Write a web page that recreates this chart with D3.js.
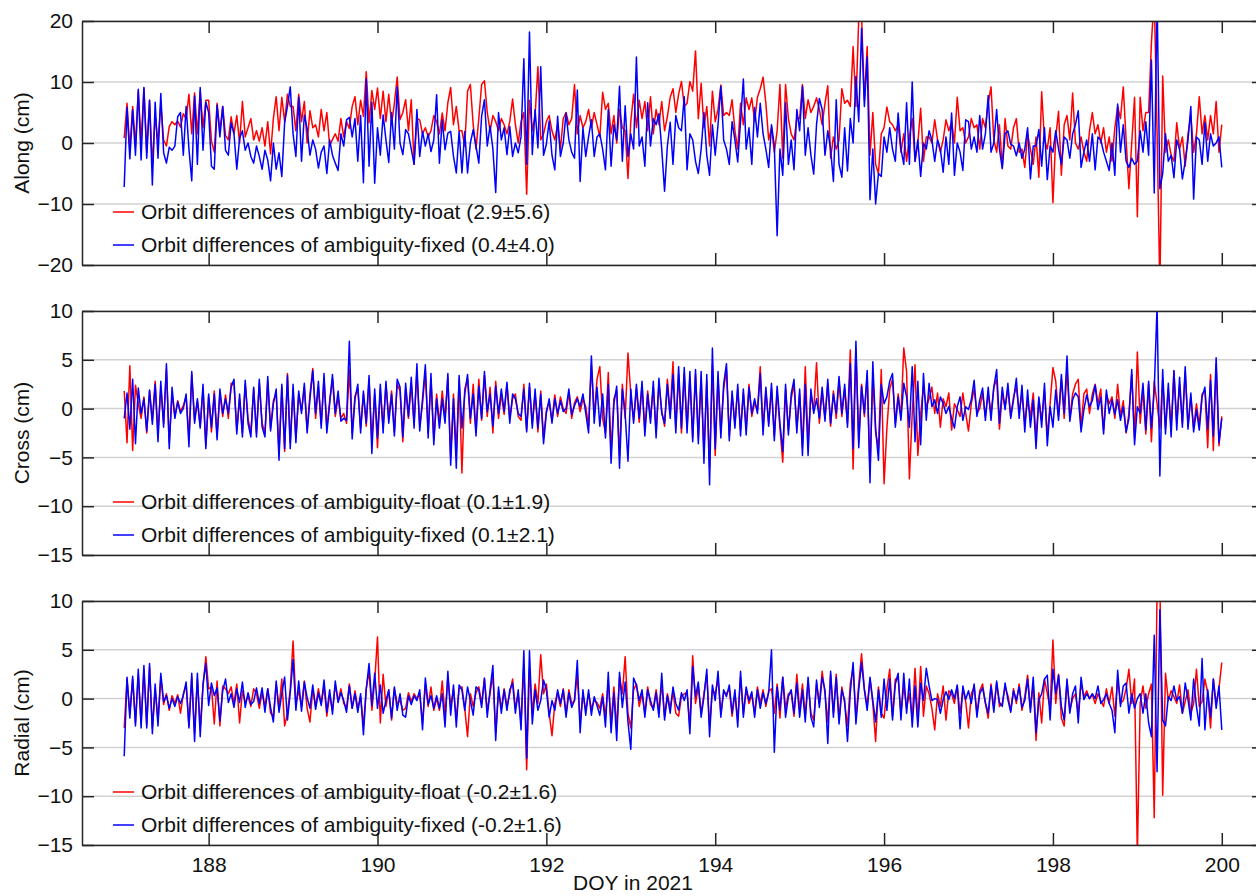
<!DOCTYPE html>
<html>
<head>
<meta charset="utf-8">
<script src="https://cdn.jsdelivr.net/npm/d3@7"></script>
<style>
body { margin: 0; background: #fff; }
svg text { font-family: "Liberation Sans", Arial, Helvetica, sans-serif; }
</style>
</head>
<body>
<svg id="chart" width="1256" height="896"></svg>
<script>
// epochs: 30 per day, first one at DOY 187.0, last one at DOY 200.0
var startDoy = 187;
var perDay = 30;

var xTicks = [188, 190, 192, 194, 196, 198, 200];
var alongTicks = [-20, -10, 0, 10, 20];
var crossTicks = [-15, -10, -5, 0, 5, 10];
var radialTicks = [-15, -10, -5, 0, 5, 10];

var alongLabels = ['Orbit differences of ambiguity-float (2.9\u00b15.6)', 'Orbit differences of ambiguity-fixed (0.4\u00b14.0)'];
var crossLabels = ['Orbit differences of ambiguity-float (0.1\u00b11.9)', 'Orbit differences of ambiguity-fixed (0.1\u00b12.1)'];
var radialLabels = ['Orbit differences of ambiguity-float (-0.2\u00b11.6)', 'Orbit differences of ambiguity-fixed (-0.2\u00b11.6)'];

// along-track differences (cm)
var alongFloat = [
 0.8,6.5,-1.0,6.0,-0.5,8.5,0.0,9.0,-1.5,7.0,-3.6,4.5,0.0,6.5,0.5,-0.5,2.7,3.5,3.0,3.6,2.6,4.8,4.0,8.0,1.5,8.2,1.5,8.5,2.5,7.0,
 7.0,0.3,-1.5,6.5,2.0,6.0,1.2,0.5,4.3,1.5,4.5,0.0,6.8,1.0,2.5,4.0,0.5,2.0,0.3,2.5,-0.5,3.5,-1.8,4.0,7.6,2.0,7.5,3.5,8.0,6.0,
 6.0,2.0,8.0,3.5,6.8,0.0,5.3,2.5,3.0,1.0,5.5,2.0,5.0,-0.5,0.6,1.5,0.3,4.0,1.0,3.5,2.4,6.0,7.6,3.0,7.0,4.4,11.7,3.3,8.6,5.5,
 9.0,4.0,8.5,3.5,8.0,3.0,6.5,10.8,3.8,5.0,7.1,2.0,7.1,-3.5,4.0,3.8,1.5,2.5,1.0,2.0,4.5,3.5,1.5,4.9,2.0,6.6,9.1,3.0,6.0,2.0,
 2.0,-0.5,8.5,9.6,3.0,-1.0,4.0,9.6,10.2,5.0,2.0,4.5,3.5,2.0,4.0,3.0,1.5,3.5,7.2,3.0,0.0,3.5,5.0,-8.4,7.0,2.0,4.5,12.5,0.5,1.5,
 3.5,4.5,2.0,0.5,3.0,-1.0,4.0,5.0,3.0,4.0,9.6,1.5,4.5,2.5,3.5,5.5,2.5,5.0,3.0,1.0,8.3,5.5,6.5,1.5,4.5,0.0,5.5,2.5,2.0,-5.8,
 3.5,8.0,2.5,7.0,4.0,6.8,2.0,7.6,1.5,5.5,3.0,6.8,2.0,4.3,7.5,8.9,5.0,8.0,10.1,6.0,6.5,10.1,8.5,15.1,4.0,9.8,2.5,6.0,-0.5,8.5,
 3.5,5.5,9.5,4.5,5.0,4.5,7.1,2.0,-1.0,6.5,3.0,7.4,5.5,7.4,3.5,7.5,8.9,10.8,6.5,0.5,2.5,-1.5,2.0,9.6,-2.5,9.6,4.0,1.5,0.5,4.0,
 4.0,9.6,4.0,7.1,5.0,6.0,7.4,5.5,3.0,6.5,9.4,-2.5,1.0,-1.0,0.5,8.9,6.5,7.0,6.0,15.8,6.0,20.5,21.0,7.0,15.8,-2.0,5.0,-3.5,-5.0,1.5,
 2.5,5.9,3.5,3.0,2.0,3.0,-1.5,1.5,-3.0,1.0,4.0,-3.0,0.0,5.7,-3.0,1.0,1.0,0.0,3.8,0.5,-1.5,0.5,3.8,2.0,3.5,0.0,7.5,2.0,2.5,0.0,
 1.0,4.0,2.5,3.0,-1.0,4.0,2.5,6.5,9.2,0.5,-1.5,3.0,-4.0,4.0,-0.5,-1.0,2.5,4.0,-1.5,-1.0,-4.0,1.5,-1.0,-3.5,1.0,-5.6,8.4,0.5,-1.0,2.5,
 -9.8,1.0,5.2,-5.3,3.0,4.5,0.5,8.2,0.0,-1.0,1.0,-1.5,-3.0,2.0,5.0,1.5,3.0,0.0,2.5,-1.5,1.0,-3.0,2.5,6.0,4.0,9.2,0.5,-7.5,0.0,7.5,
 -12.1,7.5,2.0,5.0,5.0,16.5,24.0,2.0,-24.0,11.0,-1.5,0.5,-2.0,-3.0,3.3,-1.0,1.0,-3.8,1.5,4.5,-1.5,1.5,7.6,1.5,4.5,0.5,4.5,1.5,6.8,-1.5,
 3.0
];
var alongFixed = [
 -7.2,5.8,-2.6,5.5,-2.0,8.8,-2.8,9.1,-2.5,7.0,-6.9,6.7,-2.5,8.1,-1.6,-3.3,-0.7,-1.2,-0.5,4.3,5.0,-2.0,6.0,-1.0,-6.2,7.7,-3.5,9.1,-1.2,6.7,
 5.0,-3.8,-4.3,6.2,1.0,6.0,-1.2,-2.0,3.3,1.5,-4.3,0.8,2.0,-1.2,0.0,-2.2,-3.3,-0.5,-2.2,-4.3,-1.2,-2.8,-6.2,0.0,-4.3,-1.6,-5.5,3.3,6.0,9.2,
 1.5,-2.2,7.5,-3.0,4.6,2.3,-2.0,0.5,-1.0,-4.1,-1.5,-0.5,-5.0,0.5,-2.0,-3.3,-4.5,1.5,-0.5,3.8,4.2,1.0,4.0,-3.0,4.5,-6.5,10.5,-3.8,6.7,-6.6,
 2.5,-2.0,4.6,0.5,-3.2,5.0,-1.0,9.2,0.0,-1.9,2.2,1.5,-1.0,-3.5,5.5,-2.2,1.9,-0.5,1.5,-1.4,0.5,7.9,-3.3,3.8,-1.1,1.6,1.9,-2.2,-4.9,1.9,
 -4.9,1.9,-4.9,0.0,2.2,-0.5,-3.3,4.4,7.1,-0.5,2.8,-1.0,-8.1,5.0,0.5,2.5,-1.9,2.7,-2.2,0.0,-1.6,1.0,13.8,-3.5,18.2,-1.9,5.5,-0.8,12.5,-2.0,
 -0.2,3.6,-2.0,-4.4,4.4,-2.2,0.0,4.9,0.5,-1.5,-2.5,8.7,-6.3,2.5,-2.2,1.0,3.8,-2.2,1.0,1.5,-1.0,-4.4,5.5,-3.8,3.0,0.5,9.3,-3.0,6.1,-2.2,
 1.5,-1.0,14.1,-0.5,1.0,-3.8,6.6,-0.5,4.0,3.0,4.8,-1.0,-7.9,-0.5,3.4,-3.5,4.5,2.5,2.0,7.6,-4.4,1.5,0.5,-3.0,-5.0,-1.0,5.0,-2.0,-5.3,3.0,
 -2.0,3.0,9.3,0.5,-1.0,-3.5,3.5,0.5,-3.1,3.5,10.5,-1.0,2.5,-3.5,5.8,1.0,6.5,1.5,-1.0,-4.0,3.0,-0.5,-15.2,-1.0,-5.3,6.6,-3.5,0.5,-4.4,5.5,
 2.0,9.3,-2.0,2.5,-2.0,-5.1,3.0,7.3,5.5,-2.0,2.0,-1.0,-6.3,7.1,-3.5,-5.6,2.5,-4.6,4.0,0.0,10.9,3.5,18.8,6.0,14.1,-9.3,-1.0,-10.0,-5.0,-5.5,
 1.0,-1.5,2.5,-1.0,-3.0,4.9,-1.0,-3.5,6.6,-3.5,10.0,-3.0,0.5,-5.5,0.0,-1.0,2.0,0.5,-3.0,0.5,-1.0,-4.8,1.0,-3.5,4.9,-5.3,0.0,-1.5,-4.5,3.8,
 3.5,-1.0,1.0,-1.5,4.5,-1.0,1.5,7.8,-1.5,0.0,5.5,-1.0,-4.2,1.5,2.0,-0.2,-0.5,-2.1,0.0,-2.5,-1.0,2.5,-5.9,-0.5,-0.5,2.2,-3.8,2.5,-6.0,-0.5,
 -1.5,2.0,-1.0,-3.5,1.0,0.5,-2.5,1.5,3.0,5.3,-4.0,-1.5,0.5,-3.0,1.5,-4.4,1.0,0.5,-1.5,-3.0,-4.5,0.0,-5.3,6.4,-1.5,3.0,-3.0,-4.0,-2.5,-3.5,
 -3.0,2.0,-1.5,3.5,-2.0,13.6,-8.2,24.0,-7.5,-5.0,1.5,-3.0,-2.0,-5.7,0.5,-1.0,-5.9,-3.0,0.5,6.0,-9.2,1.0,0.5,-3.5,3.3,-3.0,1.5,-0.5,0.0,1.0,
 -4.0
];

// cross-track differences (cm)
var crossFloat = [
 1.8,-3.5,4.4,-4.3,2.4,0.5,-1.0,1.2,-2.5,1.8,-1.2,2.8,-2.5,2.2,-1.5,4.0,-3.5,1.5,-0.8,0.8,-0.3,0.3,1.2,-3.0,3.5,-1.2,0.8,-1.8,2.0,-3.8,
 1.2,-2.4,1.8,-2.8,1.5,-0.8,1.4,-1.0,2.6,2.5,-2.2,1.0,-2.5,2.5,-1.0,-2.5,2.0,-2.5,2.6,-1.5,-2.5,2.8,-2.0,0.8,1.5,-4.5,2.2,-4.4,3.6,-3.5,
 2.0,-3.0,1.5,-0.2,2.2,-2.2,1.5,4.1,-1.0,2.2,-1.6,3.0,-2.0,0.8,3.0,-0.8,1.2,-1.0,-0.5,-1.5,4.0,-2.5,1.3,2.0,-2.0,1.5,-1.8,3.0,-3.3,1.5,
 -4.0,2.0,-2.0,2.5,-1.0,1.8,-2.4,2.5,1.8,-3.4,2.0,-1.0,2.6,-1.5,3.8,-1.8,0.5,3.8,-2.5,3.0,-3.2,1.5,-1.5,1.8,-1.0,3.2,-5.0,1.5,-4.5,3.0,
 -6.6,2.0,3.0,-1.5,2.5,-2.4,3.0,-1.2,3.4,-0.8,2.2,-2.5,2.8,-1.0,1.5,-0.6,2.5,-1.0,1.0,1.5,-0.8,-1.2,2.5,-2.2,2.2,-1.5,1.5,-2.4,1.8,-3.0,
 -0.2,0.7,-1.2,1.4,-0.8,1.2,0.0,-0.5,1.6,-1.0,0.6,1.2,-0.3,1.0,0.2,-1.8,4.5,-0.8,3.0,4.3,-1.0,-2.5,3.7,-4.5,1.0,1.8,-4.8,2.5,-1.0,5.7,
 1.5,-1.2,2.0,-1.4,2.3,-2.2,1.8,-1.0,2.2,-2.5,2.6,-0.2,-1.8,3.0,-0.5,4.8,-2.0,3.5,-2.5,3.6,-2.0,3.2,-3.0,3.5,-3.0,3.2,-4.5,2.8,-6.0,4.5,
 -4.8,3.0,-2.5,2.0,4.0,-2.8,1.4,-1.6,2.0,-2.2,1.6,-2.0,2.5,-0.8,0.6,-0.2,4.3,-2.0,1.8,-1.5,2.0,-2.8,1.8,-2.0,-5.5,2.0,-2.2,1.0,2.5,-2.0,
 1.5,-4.0,4.3,-3.5,1.5,-0.2,4.7,-1.5,1.8,-1.0,2.5,-1.8,1.8,-1.0,2.8,-0.8,2.0,-1.5,6.0,-6.2,6.0,-3.5,2.5,-0.8,3.5,-6.5,3.5,-2.5,-4.0,4.0,
 -7.7,-2.0,2.0,3.0,-1.5,1.5,-0.8,6.2,3.8,-7.2,-0.5,4.5,-4.8,-0.5,2.2,0.2,1.0,2.2,-0.5,1.6,-1.9,1.0,0.2,1.6,-2.2,0.5,-0.1,-0.8,1.6,-0.5,
 -2.3,0.5,2.0,-0.5,0.0,1.6,-0.8,1.5,-0.5,2.2,3.0,-2.1,1.5,0.2,2.0,-0.8,1.2,2.2,-0.3,1.5,-1.5,0.8,-0.8,1.6,-3.0,1.0,-1.2,1.8,-2.8,0.5,
 4.2,2.8,-0.8,3.0,-1.0,4.0,-1.0,1.5,2.5,3.0,-2.0,1.5,2.0,-0.5,1.5,2.5,0.5,2.0,-2.2,1.5,0.5,1.2,-1.0,2.5,-0.8,0.8,-2.5,-0.5,3.5,-3.0,
 5.8,-1.5,2.0,-2.6,2.5,-3.4,2.8,0.5,-2.0,3.0,-2.0,2.0,-2.0,3.8,-1.5,2.5,-1.5,3.8,-1.8,1.2,-2.0,0.5,-1.8,1.5,1.8,-4.0,3.5,-4.3,4.5,-3.8,
 -0.8
];
var crossFixed = [
 -1.0,1.6,-2.1,3.0,-3.6,2.1,-0.5,1.0,-2.3,1.9,-1.6,2.5,-3.4,2.8,-1.9,4.6,-4.1,2.2,-1.0,0.7,-0.5,0.0,1.5,-3.9,3.8,-1.5,1.0,-2.0,2.5,-4.1,
 1.5,-1.9,1.5,-3.2,2.0,-0.5,1.0,-0.5,2.2,3.0,-2.6,1.5,-2.9,2.9,-1.5,-2.9,2.2,-2.9,3.0,-1.9,-2.9,3.3,-2.3,0.5,2.0,-5.3,2.5,-4.1,3.4,-4.1,
 2.5,-3.5,1.8,-0.5,2.6,-2.5,1.0,3.9,-0.5,2.8,-2.0,3.6,-2.5,0.5,3.5,-0.5,1.8,-1.3,-1.0,-1.2,6.9,-3.1,1.0,2.5,-2.5,1.8,-1.5,3.4,-4.6,2.0,
 -3.0,2.5,-2.5,2.8,-1.5,1.5,-2.8,3.0,2.2,-2.9,2.6,-0.8,3.2,-2.0,4.6,-2.3,1.0,4.5,-3.0,3.6,-3.7,1.0,-2.0,1.0,-1.5,3.6,-5.8,1.0,-6.1,3.4,
 -2.0,1.5,3.5,-1.0,1.5,-2.8,2.3,-1.0,3.8,-0.3,1.5,-1.8,2.3,-0.5,2.0,-0.3,2.7,-1.5,1.5,1.0,-0.5,-0.8,2.0,-2.4,2.6,-2.0,2.0,-2.0,1.5,-3.6,
 -0.5,1.0,-1.5,1.0,-0.5,0.8,-0.3,0.0,2.0,-0.6,0.3,1.0,0.2,1.5,-0.5,-2.5,5.4,-1.5,2.2,-1.8,1.5,-3.0,2.5,-5.6,0.5,2.3,-6.1,2.0,-0.5,-5.4,
 2.0,-1.5,2.5,-1.0,2.8,-2.8,1.5,-1.5,2.8,-3.0,3.1,-0.5,-1.5,2.5,-1.0,3.5,-2.5,4.3,-2.0,4.2,-2.5,3.8,-3.4,4.0,-3.6,3.8,-5.6,3.5,-7.8,6.2,
 -4.1,3.8,-3.0,2.5,4.6,-3.3,1.8,-2.0,2.5,-2.8,2.0,-2.7,2.2,-0.5,1.0,-0.5,3.6,-2.7,2.2,-1.8,2.6,-3.3,2.3,-1.5,-4.4,2.5,-2.7,1.5,3.0,-2.5,
 2.0,-4.8,2.5,-4.8,2.0,-0.5,1.0,-1.0,2.2,-1.3,3.0,-1.5,1.5,-0.5,3.3,-0.5,2.5,-1.9,4.6,-4.1,6.9,-4.0,2.3,-0.5,3.9,-7.6,4.8,-2.0,-5.3,2.5,
 0.5,1.2,2.8,3.6,-1.9,1.2,-1.2,2.6,1.2,-1.9,4.3,-3.4,2.8,-3.7,3.6,-1.2,2.6,0.2,0.9,-0.5,1.2,0.5,-0.5,0.2,-1.0,-2.0,0.2,1.2,-1.2,0.2,
 -0.1,0.9,2.9,-0.8,0.9,2.1,-1.2,2.2,-1.2,2.2,4.0,-1.5,2.2,-0.1,2.6,-1.0,0.9,3.1,-1.0,2.4,-2.4,1.9,-1.9,0.9,-4.1,1.2,-1.9,2.6,-3.8,0.2,
 -1.9,1.9,-1.2,3.5,-0.5,5.4,-1.3,0.9,1.6,1.2,-2.4,-0.1,1.4,0.2,0.8,2.4,-0.1,1.2,-2.6,1.9,-0.5,0.9,-0.6,0.9,-1.2,0.2,-2.4,-1.0,4.0,-3.7,
 0.2,-0.5,2.6,-2.2,2.8,-2.0,1.9,10.5,-6.9,4.0,-2.6,2.6,-2.9,3.9,-2.2,3.2,-1.9,4.3,-2.1,1.6,-2.4,-0.1,-2.2,1.2,2.2,-2.1,2.9,-2.8,5.2,-3.5,
 -1.0
];

// radial differences (cm)
var radialFloat = [
 -3.0,2.0,-1.5,2.0,-2.5,2.5,-2.5,3.0,-2.7,3.2,-3.0,1.0,-2.3,2.2,-0.6,0.5,-1.2,0.3,-0.5,0.4,-1.5,0.5,1.4,-2.8,2.2,-3.5,2.0,-3.0,1.2,4.3,
 1.0,1.2,-2.6,1.8,-2.8,1.3,1.0,0.5,1.2,-0.5,1.5,-2.5,0.8,-0.4,0.2,-0.8,1.0,0.5,-1.0,0.6,-0.8,1.0,-1.5,-1.8,1.5,-1.0,2.0,-2.8,-1.5,1.0,
 5.9,-0.5,0.8,-0.8,1.8,-1.0,-2.4,1.0,-0.8,1.0,-0.5,1.2,-1.8,0.4,-1.2,1.4,-0.2,1.0,-0.5,-0.9,1.5,-1.0,0.8,-1.0,0.2,-2.8,1.0,2.8,-1.2,1.8,
 6.3,-2.5,2.5,-0.8,0.9,-2.2,1.0,-0.5,-0.2,-1.2,-1.0,0.6,-0.3,0.5,0.0,0.5,-2.5,1.4,-0.8,1.2,-1.2,0.0,-1.2,1.8,-1.8,2.2,-0.8,0.9,-2.0,1.0,
 1.2,-1.0,-3.9,0.5,-0.8,0.6,1.2,-0.5,2.0,-1.2,0.5,2.5,-3.5,0.8,-1.0,1.0,-0.8,0.5,2.0,-1.0,0.5,-2.5,3.5,-7.3,3.0,-1.5,1.5,-0.5,4.5,0.5,
 1.5,-1.5,-3.8,-0.5,0.6,-0.8,1.0,-1.5,0.9,-0.5,-0.2,2.5,-2.5,0.5,-1.2,0.5,-1.0,-0.2,-0.4,-1.0,0.5,-2.0,1.8,-2.5,1.2,-3.0,2.2,0.5,4.3,-1.5,
 -3.0,0.9,1.5,-0.8,0.5,-1.5,1.2,-0.6,-1.0,0.9,-1.2,1.5,-1.8,0.5,-1.0,0.8,-1.5,-1.8,0.2,0.5,0.6,-2.8,4.4,-0.5,1.2,-1.5,0.5,2.5,-2.8,0.9,
 0.5,2.0,-1.5,0.6,0.5,1.0,-1.8,0.5,-2.2,2.2,-1.5,0.9,-0.5,0.4,-1.5,1.2,-0.5,0.9,-0.8,0.8,1.0,-1.5,1.5,-2.0,2.2,-1.0,0.5,0.6,-1.8,2.5,
 -1.2,1.5,-1.8,1.8,-1.5,-2.2,1.5,-0.5,2.8,0.5,-2.4,2.5,-1.5,2.5,-2.2,1.2,-0.5,-2.8,1.5,3.2,-2.0,1.5,4.6,1.0,-0.8,2.0,-0.5,-4.4,1.2,-1.5,
 -2.0,1.0,3.0,-1.8,2.0,2.0,-1.5,1.3,-1.0,0.5,-2.0,3.1,-2.2,3.3,-1.8,1.3,0.5,-1.0,-3.2,0.5,-0.8,1.3,-2.2,0.8,0.5,-0.5,1.3,-1.5,0.9,-0.3,
 -3.0,0.5,1.2,-1.5,0.8,1.5,-0.5,-2.0,1.5,-1.0,1.6,-0.8,-0.5,1.2,0.3,-1.2,1.0,-0.5,1.5,-1.2,0.2,2.4,-1.0,1.5,-4.3,0.6,-2.5,2.0,0.5,-1.0,
 6.0,-0.5,2.5,-2.0,-2.8,1.8,-1.2,0.0,0.5,-1.5,1.5,0.2,0.8,0.0,0.4,-0.5,0.5,-0.2,-0.8,1.0,-0.5,1.2,-1.8,2.0,-0.5,-0.2,1.0,3.0,-0.5,2.0,
 -16.0,-0.5,1.3,-1.0,0.5,1.5,-12.2,11.0,12.0,-9.9,2.6,-0.2,0.8,0.2,-0.5,1.4,-1.5,-0.3,0.9,-1.5,-0.5,3.0,-0.8,-0.3,2.0,0.6,-3.0,2.0,-0.5,1.0,
 3.7
];
var radialFixed = [
 -5.9,2.2,-2.0,2.3,-2.8,3.0,-3.0,3.4,-3.0,3.6,-3.6,1.5,-2.8,2.6,-0.3,0.3,-1.0,0.0,-0.8,0.2,-0.5,0.3,1.7,-3.0,2.6,-4.4,2.6,-3.9,1.5,3.6,
 -0.7,1.6,0.3,1.1,-2.3,0.8,2.0,-0.4,0.5,-0.9,1.0,-0.4,1.7,-0.9,0.6,-0.6,-0.3,1.1,-0.5,1.1,-1.4,1.0,-0.9,-2.4,1.8,-1.4,0.5,2.2,-2.2,0.6,
 4.0,-1.2,1.8,-1.3,1.7,0.1,-1.0,1.4,-1.1,0.6,-0.7,1.9,-1.4,0.9,-1.6,1.8,-0.4,0.6,-0.2,-1.4,1.3,-1.0,0.5,-1.4,0.5,-3.7,1.0,3.6,-0.7,2.6,
 -1.0,1.4,-1.5,-0.2,0.9,-2.0,1.2,-1.2,0.5,-1.7,-1.9,0.3,-0.6,0.3,-0.2,0.9,-3.2,2.1,-0.6,0.3,-1.0,0.3,-1.0,0.5,-2.9,2.8,-1.7,1.4,-2.9,1.4,
 0.9,-1.2,1.2,-0.2,-1.7,1.2,0.9,-0.9,2.1,-1.9,0.9,3.4,-4.3,1.2,-1.5,0.9,-1.2,0.9,1.6,-1.5,0.9,-3.2,4.9,-6.1,4.9,-2.6,0.9,-1.2,-0.2,1.9,
 0.9,-1.9,-0.2,-1.2,0.9,-0.5,0.9,-1.9,0.6,-0.9,-0.2,3.9,-3.5,0.9,-1.7,0.9,-1.7,0.2,-0.7,-1.7,0.2,-2.9,2.7,-3.5,0.6,-4.3,2.7,-0.9,1.7,-2.4,
 -5.2,2.1,1.4,-0.2,0.9,-1.9,0.9,-0.2,-1.2,0.6,-1.9,2.6,-2.2,0.3,-1.5,1.2,-0.5,-1.2,0.6,-0.2,0.9,-3.6,3.3,0.2,1.7,-1.9,0.2,3.0,-3.9,1.4,
 -0.2,2.8,-1.9,0.9,0.2,1.4,-1.5,0.9,-2.9,2.8,-1.9,1.2,-0.2,0.7,-1.9,0.9,-1.0,0.6,-0.5,0.6,5.0,-5.5,1.2,-1.2,2.2,-1.9,0.2,0.9,-1.5,1.6,
 -1.9,0.9,-2.4,2.2,-1.9,-2.9,1.9,-0.9,2.2,0.9,-4.6,2.8,-1.9,2.2,-2.6,0.9,-0.2,-4.4,0.6,3.7,-2.6,0.9,3.7,0.9,-1.2,2.2,-0.2,-2.4,0.9,-1.9,
 2.0,-1.2,2.0,-2.2,1.5,2.6,-2.2,2.6,-1.5,2.0,-2.9,1.3,-2.9,1.6,-0.2,3.1,1.3,-0.2,0.0,-0.1,-1.5,-0.1,0.7,-0.1,0.9,0.0,1.4,-3.1,1.3,-0.1,
 0.8,-0.5,1.5,-1.9,0.5,1.1,-0.4,-1.5,1.3,-1.4,1.8,-0.4,-0.8,1.6,-0.1,-1.4,0.8,-0.2,1.2,-0.9,-0.2,2.0,-1.4,2.2,-3.5,-0.1,0.5,2.0,2.4,-2.2,
 3.0,0.5,2.4,-0.8,-2.2,2.0,-1.5,0.5,1.3,-2.5,2.2,-0.1,0.5,0.0,0.5,0.0,1.3,-0.5,-0.1,0.5,-0.5,-1.2,-3.5,2.9,-0.8,1.3,1.6,-1.5,0.5,-1.0,
 0.0,0.5,-1.5,0.5,-2.5,-3.9,6.5,-7.5,9.1,-2.2,-2.8,0.2,-0.2,1.3,-0.2,0.2,-1.5,1.6,-0.1,-2.2,2.0,-0.8,-2.8,4.1,-3.2,0.9,-1.9,2.0,-1.0,1.3,
 -3.2
];

var svg = d3.select('#chart');

var left = 82, right = 1264, panelH = 244;
var xScale = d3.scaleLinear().domain([186.5, 200.5]).range([left, right]);

var panels = [
  {top: 21,  title: 'Along (cm)',  fl: alongFloat,  fx: alongFixed,  domain: [-20, 20], ticks: alongTicks,  names: alongLabels},
  {top: 311, title: 'Cross (cm)',  fl: crossFloat,  fx: crossFixed,  domain: [-15, 10], ticks: crossTicks,  names: crossLabels},
  {top: 601, title: 'Radial (cm)', fl: radialFloat, fx: radialFixed, domain: [-15, 10], ticks: radialTicks, names: radialLabels}
];

var colors = ['#ff0000', '#0000ff'];

function styleAxis(g) {
  g.attr('font-size', 21)
   .attr('font-family', '"Liberation Sans", Arial, Helvetica, sans-serif')
   .attr('color', '#262626');
  g.select('.domain').attr('stroke-width', 1.5);
  g.selectAll('.tick line').attr('stroke-width', 1.5);
  g.selectAll('.tick text').attr('fill', '#111');
}

panels.forEach(function(p, k) {
  var g = svg.append('g').attr('transform', 'translate(0,' + p.top + ')');
  var yScale = d3.scaleLinear().domain(p.domain).range([panelH, 0]);

  // horizontal grid
  g.selectAll('.grid')
    .data(p.ticks)
    .enter().append('line')
    .attr('class', 'grid')
    .attr('x1', left).attr('x2', right)
    .attr('y1', function(d) { return yScale(d); })
    .attr('y2', function(d) { return yScale(d); })
    .attr('stroke', '#d2d2d2')
    .attr('stroke-width', 1.5);

  g.append('clipPath').attr('id', 'clip' + k)
    .append('rect').attr('x', left).attr('y', 0)
    .attr('width', right - left).attr('height', panelH);

  var line = d3.line()
    .x(function(d, i) { return xScale(startDoy + i / perDay); })
    .y(function(d) { return yScale(d); });

  [p.fl, p.fx].forEach(function(series, s) {
    g.append('path')
      .datum(series)
      .attr('clip-path', 'url(#clip' + k + ')')
      .attr('fill', 'none')
      .attr('stroke', colors[s])
      .attr('stroke-width', 1.5)
      .attr('stroke-linejoin', 'round')
      .attr('d', line);
  });

  // axes, ticks point inward
  var yAxisL = g.append('g').attr('transform', 'translate(' + left + ',0)')
    .call(d3.axisLeft(yScale).tickValues(p.ticks).tickSize(-12).tickSizeOuter(0).tickPadding(9));
  styleAxis(yAxisL);

  var yAxisR = g.append('g').attr('transform', 'translate(' + right + ',0)')
    .call(d3.axisRight(yScale).tickValues(p.ticks).tickSize(-12).tickSizeOuter(0).tickFormat(''));
  styleAxis(yAxisR);

  var xAxisT = g.append('g')
    .call(d3.axisTop(xScale).tickValues(xTicks).tickSize(-12).tickSizeOuter(0).tickFormat(''));
  styleAxis(xAxisT);

  var xAxisB = d3.axisBottom(xScale).tickValues(xTicks).tickSize(-12).tickSizeOuter(0).tickPadding(12);
  if (k < panels.length - 1) xAxisB.tickFormat('');
  var xAxisBG = g.append('g').attr('transform', 'translate(0,' + panelH + ')').call(xAxisB);
  styleAxis(xAxisBG);

  // y label
  g.append('text')
    .attr('transform', 'translate(22,' + (panelH / 2) + ') rotate(-90)')
    .attr('text-anchor', 'middle')
    .attr('dy', '0.35em')
    .attr('font-size', 21)
    .attr('fill', '#111')
    .text(p.title);

  // legend
  var leg = g.selectAll('.leg')
    .data(p.names)
    .enter().append('g')
    .attr('class', 'leg')
    .attr('transform', function(d, i) { return 'translate(0,' + (191 + i * 33) + ')'; });
  leg.append('line')
    .attr('x1', 113).attr('x2', 134)
    .attr('stroke', function(d, i) { return colors[i]; })
    .attr('stroke-width', 1.5);
  leg.append('text')
    .attr('x', 141)
    .attr('dy', '0.35em')
    .attr('font-size', 21)
    .attr('fill', '#111')
    .text(function(d) { return d; });
});

svg.append('text')
  .attr('x', 633)
  .attr('y', 890)
  .attr('text-anchor', 'middle')
  .attr('font-size', 21)
  .attr('fill', '#111')
  .text('DOY in 2021');
</script>
</body>
</html>
